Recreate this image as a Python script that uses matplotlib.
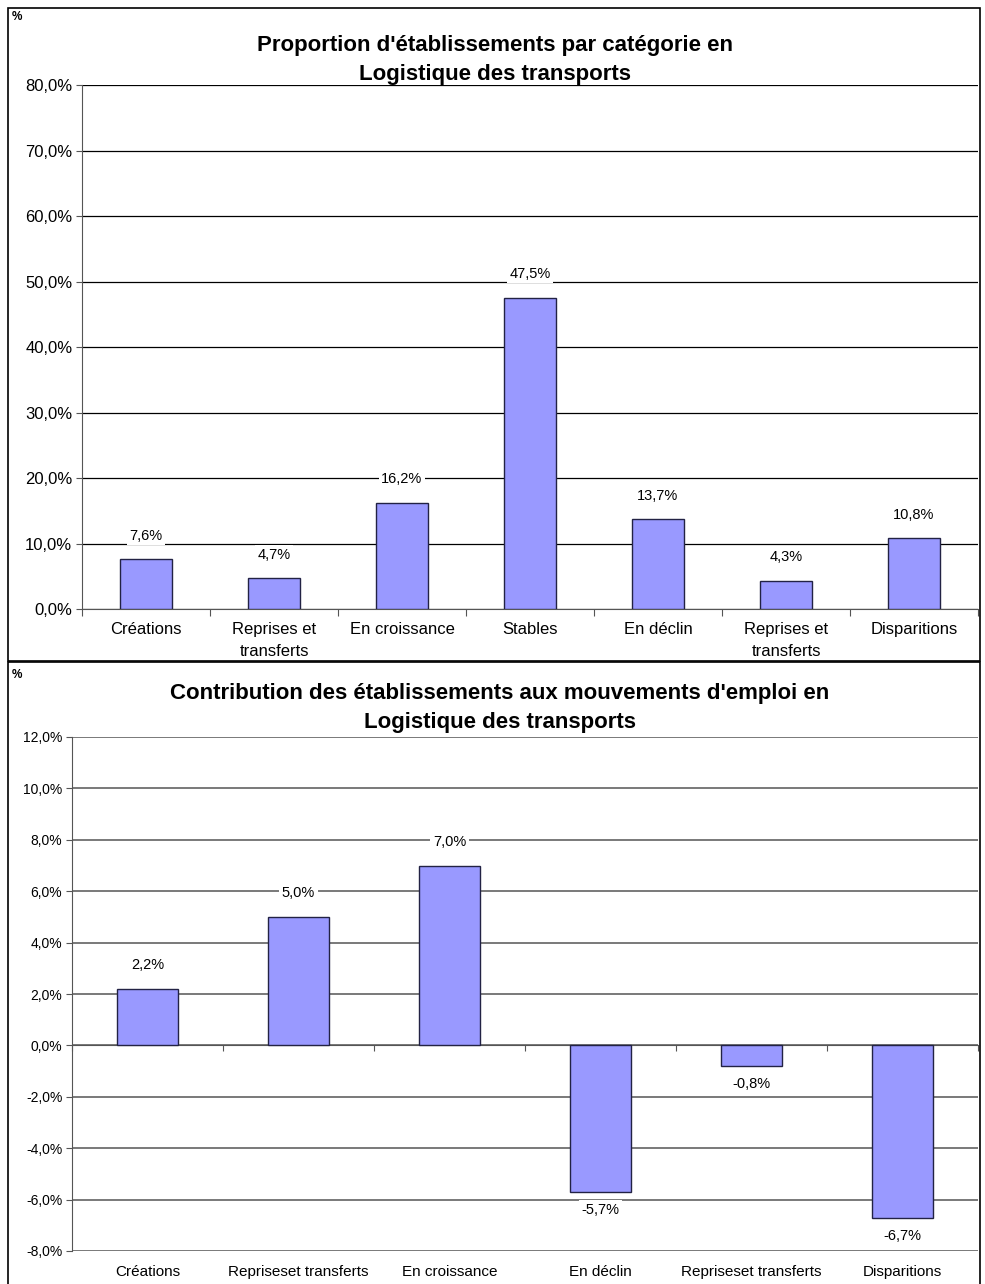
import matplotlib
matplotlib.use('Agg')
import matplotlib.pyplot as plt
from matplotlib.patches import Rectangle
from matplotlib.ticker import FuncFormatter, FixedLocator
import matplotlib.transforms as mtransforms

plt.rcParams['font.family'] = ['Liberation Sans', 'DejaVu Sans']

# Data
cats_top = ['Créations', 'Reprises et\ntransferts', 'En croissance', 'Stables',
            'En déclin', 'Reprises et\ntransferts', 'Disparitions']
vals_top = [7.6, 4.7, 16.2, 47.5, 13.7, 4.3, 10.8]
title_top = "Proportion d'établissements par catégorie en\nLogistique des transports"

cats_bot = ['Créations', 'Repriseset transferts', 'En croissance',
            'En déclin', 'Repriseset transferts', 'Disparitions']
vals_bot = [2.2, 5.0, 7.0, -5.7, -0.8, -6.7]
title_bot = "Contribution des établissements aux mouvements d'emploi en\nLogistique des transports"

W, H = 985, 1284
BAR = '#9999ff'

fig = plt.figure(figsize=(W / 100, H / 100), dpi=100)


def px_axes(x0, y0, x1, y1):
    # pixel box (top-left origin) -> figure fraction
    return fig.add_axes([x0 / W, 1 - y1 / H, (x1 - x0) / W, (y1 - y0) / H])


def pct(v, _):
    return f"{v:.1f}%".replace('.', ',')


# outer frames
fig.patches.append(Rectangle((8 / W, 1 - 661 / H), (980 - 8) / W, (661 - 8) / H,
                             transform=fig.transFigure, fill=False, lw=1.2, ec='black'))
fig.patches.append(Rectangle((8 / W, -0.01), (980 - 8) / W, 1 - 662 / H + 0.01,
                             transform=fig.transFigure, fill=False, lw=1.2, ec='black'))

# ---- top chart
ax = px_axes(82, 85, 978, 609)
x = range(len(vals_top))
ax.bar(x, vals_top, width=0.41, color=BAR, edgecolor='#222244', lw=1, zorder=3)
ax.set_xlim(-0.5, len(vals_top) - 0.5)
ax.set_ylim(0, 80)
ax.yaxis.set_major_locator(FixedLocator(range(0, 81, 10)))
ax.yaxis.set_major_formatter(FuncFormatter(pct))
ax.grid(axis='y', color='black', lw=0.9, zorder=0)
ax.xaxis.set_major_locator(FixedLocator([i + 0.5 for i in range(-1, len(vals_top))]))
ax.set_xticklabels([])
ax.tick_params(axis='x', length=5, color='#555555', direction='out')
ax.tick_params(axis='y', length=4, color='#555555', labelsize=12, pad=3)
for s in ['top', 'right']:
    ax.spines[s].set_visible(False)
for s in ['left', 'bottom']:
    ax.spines[s].set_color('#555555')
for i, (c, v) in enumerate(zip(cats_top, vals_top)):
    ax.text(i, -2.0, c, ha='center', va='top', fontsize=12, linespacing=1.55)
    ax.annotate(pct(v, None), (i, v), xytext=(0, 12), textcoords='offset points',
                ha='center', va='bottom', fontsize=10.5, zorder=4,
                bbox=dict(boxstyle='square,pad=0.15', fc='white', ec='none'))
fig.text(495 / W, 1 - 60 / H, title_top, ha='center', va='center', fontsize=16,
         fontweight='bold', linespacing=1.5)
fig.text(12 / W, 1 - 17 / H, '%', fontsize=8.5, fontweight='bold', va='center')

# ---- bottom chart
ax2 = px_axes(72, 737, 978, 1251)
x2 = range(len(vals_bot))
ax2.bar(x2, vals_bot, width=0.41, color=BAR, edgecolor='#222244', lw=1, zorder=3)
ax2.set_xlim(-0.5, len(vals_bot) - 0.5)
ax2.set_ylim(-8, 12)
ax2.yaxis.set_major_locator(FixedLocator(range(-8, 13, 2)))
ax2.yaxis.set_major_formatter(FuncFormatter(pct))
ax2.grid(axis='y', color='#555555', lw=1.1, zorder=0)
ax2.spines['bottom'].set_position(('data', 0))
ax2.xaxis.set_major_locator(FixedLocator([i + 0.5 for i in range(-1, len(vals_bot))]))
ax2.set_xticklabels([])
ax2.tick_params(axis='x', length=4, color='#555555', direction='out')
ax2.tick_params(axis='y', length=4, color='#555555', labelsize=10, pad=3)
for s in ['top', 'right']:
    ax2.spines[s].set_visible(False)
for s in ['left', 'bottom']:
    ax2.spines[s].set_color('#555555')
trans = mtransforms.blended_transform_factory(ax2.transData, ax2.transAxes)
for i, (c, v) in enumerate(zip(cats_bot, vals_bot)):
    ax2.text(i, -0.04, c, transform=trans, ha='center', va='center', fontsize=11)
    off = 12 if v >= 0 else -8
    ax2.annotate(pct(v, None), (i, v), xytext=(0, off), textcoords='offset points',
                 ha='center', va='bottom' if v >= 0 else 'top', fontsize=10.5, zorder=4,
                 bbox=dict(boxstyle='square,pad=0.2', fc='white', ec='none'))
fig.text(500 / W, 1 - 708 / H, title_bot, ha='center', va='center', fontsize=16,
         fontweight='bold', linespacing=1.5)
fig.text(12 / W, 1 - 675 / H, '%', fontsize=8.5, fontweight='bold', va='center')

fig.savefig('out.png', dpi=100, facecolor='white')
